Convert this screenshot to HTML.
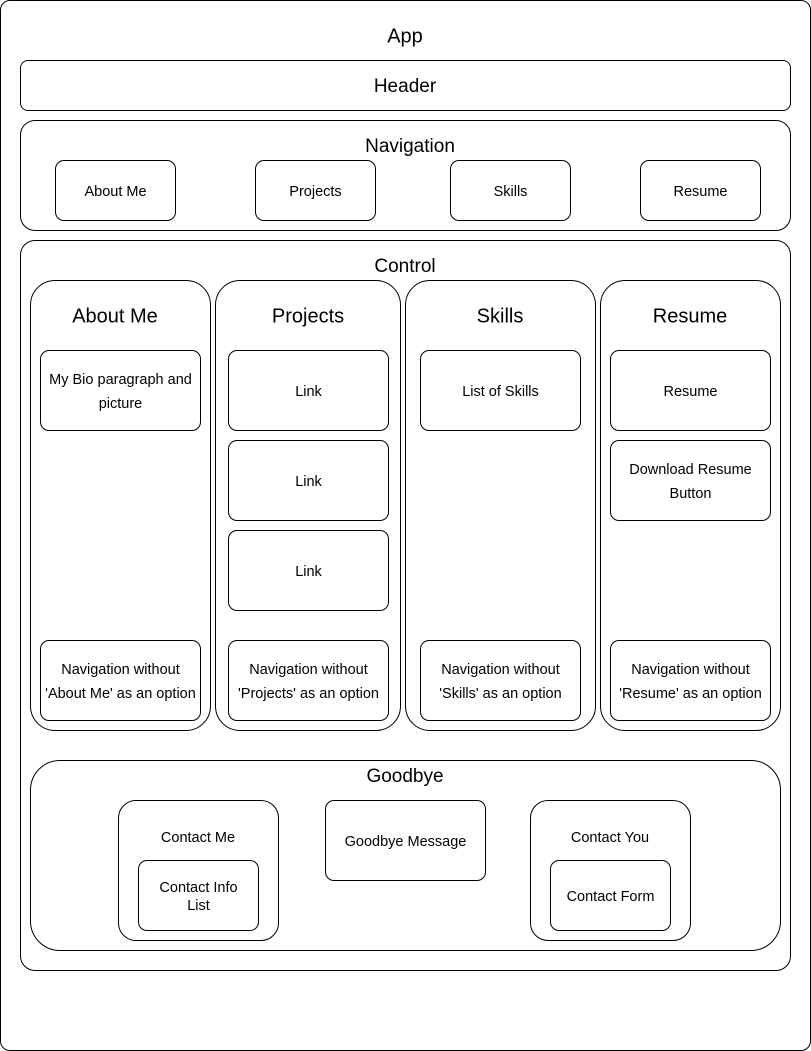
<!DOCTYPE html>
<html><head><meta charset="utf-8"><style>
body{margin:0;width:811px;height:1051px;background:#fff;position:relative;font-family:"Liberation Sans",Arial,sans-serif;color:#000;overflow:hidden}
.b{position:absolute;box-sizing:border-box;border:1px solid #000;background:#fff}
.t{position:absolute;text-align:center;white-space:nowrap;transform:translate(-50%,-50%);margin-top:2px}
.c{position:absolute;box-sizing:border-box;border:1px solid #000;border-radius:9px;background:#fff;display:flex;align-items:center;justify-content:center;text-align:center;font-size:14.5px;line-height:24px;padding-top:2px}
</style></head><body>
<div class="b" style="left:0;top:0;width:811px;height:1051px;border-radius:10px"></div>
<div class="t" style="left:405px;top:35px;font-size:20px">App</div>
<div class="b" style="left:20px;top:60px;width:771px;height:51px;border-radius:8px"></div>
<div class="t" style="left:405px;top:85px;font-size:19px">Header</div>
<div class="b" style="left:20px;top:120px;width:771px;height:111px;border-radius:15px"></div>
<div class="t" style="left:410px;top:145px;font-size:19px">Navigation</div>
<div class="c" style="left:55px;top:160px;width:121px;height:61px">About Me</div>
<div class="c" style="left:255px;top:160px;width:121px;height:61px">Projects</div>
<div class="c" style="left:450px;top:160px;width:121px;height:61px">Skills</div>
<div class="c" style="left:640px;top:160px;width:121px;height:61px">Resume</div>
<div class="b" style="left:20px;top:240px;width:771px;height:731px;border-radius:15px"></div>
<div class="t" style="left:405px;top:265px;font-size:19px">Control</div>

<div class="b" style="left:30px;top:280px;width:181px;height:451px;border-radius:25px"></div>
<div class="t" style="left:115px;top:315px;font-size:20px">About Me</div>
<div class="c" style="left:40px;top:350px;width:161px;height:81px">My Bio paragraph and<br>picture</div>
<div class="c" style="left:40px;top:640px;width:161px;height:81px">Navigation without<br>'About Me' as an option</div>

<div class="b" style="left:215px;top:280px;width:186px;height:451px;border-radius:25px"></div>
<div class="t" style="left:308px;top:315px;font-size:20px">Projects</div>
<div class="c" style="left:228px;top:350px;width:161px;height:81px">Link</div>
<div class="c" style="left:228px;top:440px;width:161px;height:81px">Link</div>
<div class="c" style="left:228px;top:530px;width:161px;height:81px">Link</div>
<div class="c" style="left:228px;top:640px;width:161px;height:81px">Navigation without<br>'Projects' as an option</div>

<div class="b" style="left:405px;top:280px;width:191px;height:451px;border-radius:25px"></div>
<div class="t" style="left:500px;top:315px;font-size:20px">Skills</div>
<div class="c" style="left:420px;top:350px;width:161px;height:81px">List of Skills</div>
<div class="c" style="left:420px;top:640px;width:161px;height:81px">Navigation without<br>'Skills' as an option</div>

<div class="b" style="left:600px;top:280px;width:181px;height:451px;border-radius:25px"></div>
<div class="t" style="left:690px;top:315px;font-size:20px">Resume</div>
<div class="c" style="left:610px;top:350px;width:161px;height:81px">Resume</div>
<div class="c" style="left:610px;top:440px;width:161px;height:81px">Download Resume<br>Button</div>
<div class="c" style="left:610px;top:640px;width:161px;height:81px">Navigation without<br>'Resume' as an option</div>

<div class="b" style="left:30px;top:760px;width:751px;height:191px;border-radius:30px"></div>
<div class="t" style="left:405px;top:775px;font-size:19px">Goodbye</div>
<div class="b" style="left:118px;top:800px;width:161px;height:141px;border-radius:18px"></div>
<div class="t" style="left:198px;top:836px;font-size:14.5px">Contact Me</div>
<div class="c" style="left:138px;top:860px;width:121px;height:71px;line-height:18px">Contact Info<br>List</div>
<div class="c" style="left:325px;top:800px;width:161px;height:81px">Goodbye Message</div>
<div class="b" style="left:530px;top:800px;width:161px;height:141px;border-radius:18px"></div>
<div class="t" style="left:610px;top:836px;font-size:14.5px">Contact You</div>
<div class="c" style="left:550px;top:860px;width:121px;height:71px">Contact Form</div>
</body></html>
